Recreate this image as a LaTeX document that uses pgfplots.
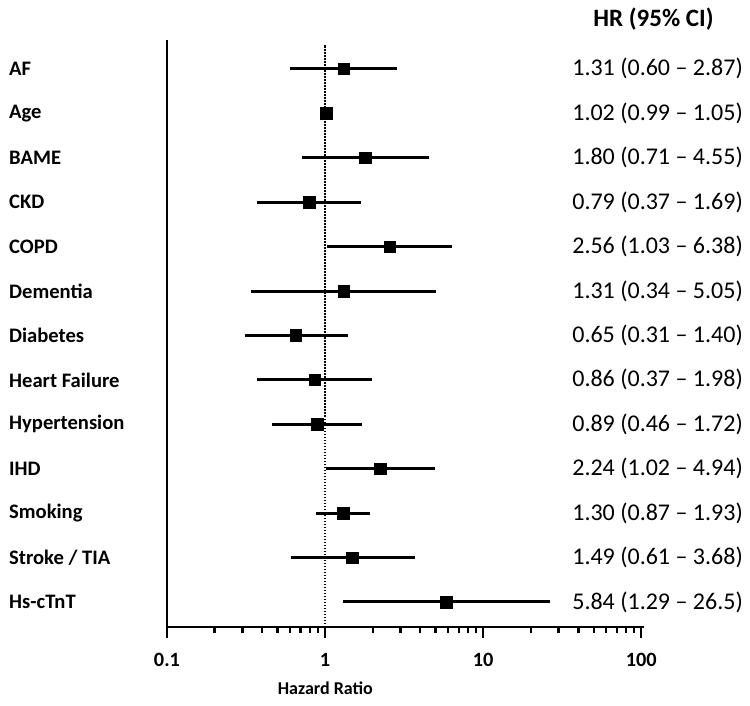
\documentclass[border=0pt]{standalone}
\usepackage{pgfplots}
\pgfplotsset{compat=1.18}
\usepackage{pgfplotstable}
\usepackage{fontspec}
\setmainfont{Carlito}
\pgfplotstableread{
hr lo hi y
1.31 0.60 2.87 13
1.02 0.99 1.05 12
1.80 0.71 4.55 11
0.79 0.37 1.69 10
2.56 1.03 6.38 9
1.31 0.34 5.05 8
0.65 0.31 1.40 7
0.86 0.37 1.98 6
0.89 0.46 1.72 5
2.24 1.02 4.94 4
1.30 0.87 1.93 3
1.49 0.61 3.68 2
5.84 1.29 26.5 1
}\datatable
\begin{document}
\begin{tikzpicture}
\path[use as bounding box] (0,0) rectangle (750pt,705pt);
\begin{axis}[
  at={(167pt,78pt)}, anchor=south west,
  scale only axis, width=477pt, height=587pt,
  xmode=log, log basis x=10,
  xmin=0.1, xmax=104, ymin=0.437, ymax=13.65,
  axis x line*=bottom, axis y line*=left,
  axis line style={line width=2.5pt, black},
  ytick=\empty,
  xtick={0.1,1,10,100},
  xticklabels={\textbf{0.1},\textbf{1},\textbf{10},\textbf{100}},
  minor xtick={0.2,0.3,0.4,0.5,0.6,0.7,0.8,0.9,2,3,4,5,6,7,8,9,20,30,40,50,60,70,80,90},
  tick align=outside,
  major tick length=11pt, minor tick length=6pt,
  every tick/.style={line width=2.3pt, black},
  x tick label style={font=\fontsize{20.3}{24}\selectfont, yshift=-12pt},
  xlabel={\fontsize{18}{21}\selectfont\bfseries Hazard Ratio},
  xlabel style={at={(ticklabel cs:0.332)}, yshift=-8pt},
  clip=false,
]
\addplot[line width=1.8pt, black, dash pattern=on 1.5pt off 1.5pt] coordinates {(1,0.437) (1,13.54)};
\addplot[only marks, mark=square*, mark size=5.8pt, black,
  error bars/.cd, x dir=both, x explicit, error mark=none,
  error bar style={line width=3pt, black}]
  table[x=hr, y=y, x error plus expr=\thisrow{hi}-\thisrow{hr}, x error minus expr=\thisrow{hr}-\thisrow{lo}] {\datatable};
\begin{scope}[every node/.style={inner sep=0pt}]
\begin{scope}[every node/.append style={font=\fontsize{20.6}{24}\selectfont\bfseries, anchor=west, xshift=-158pt}]
\node at (axis cs:0.1,13) {AF};
\node at (axis cs:0.1,12) {Age};
\node at (axis cs:0.1,11) {BAME};
\node at (axis cs:0.1,10) {CKD};
\node at (axis cs:0.1,9) {COPD};
\node at (axis cs:0.1,8) {Dementia};
\node at (axis cs:0.1,7) {Diabetes};
\node at (axis cs:0.1,6) {Heart Failure};
\node at (axis cs:0.1,5) {Hypertension};
\node at (axis cs:0.1,4) {IHD};
\node at (axis cs:0.1,3) {Smoking};
\node at (axis cs:0.1,2) {Stroke / TIA};
\node at (axis cs:0.1,1) {Hs-cTnT};
\end{scope}
\begin{scope}[every node/.append style={font=\fontsize{24}{28}\selectfont, anchor=east, xshift=576pt}]
\node at (axis cs:0.1,13) {1.31 (0.60 -- 2.87)};
\node at (axis cs:0.1,12) {1.02 (0.99 -- 1.05)};
\node at (axis cs:0.1,11) {1.80 (0.71 -- 4.55)};
\node at (axis cs:0.1,10) {0.79 (0.37 -- 1.69)};
\node at (axis cs:0.1,9) {2.56 (1.03 -- 6.38)};
\node at (axis cs:0.1,8) {1.31 (0.34 -- 5.05)};
\node at (axis cs:0.1,7) {0.65 (0.31 -- 1.40)};
\node at (axis cs:0.1,6) {0.86 (0.37 -- 1.98)};
\node at (axis cs:0.1,5) {0.89 (0.46 -- 1.72)};
\node at (axis cs:0.1,4) {2.24 (1.02 -- 4.94)};
\node at (axis cs:0.1,3) {1.30 (0.87 -- 1.93)};
\node at (axis cs:0.1,2) {1.49 (0.61 -- 3.68)};
\node at (axis cs:0.1,1) {5.84 (1.29 -- 26.5)};
\end{scope}
\node[font=\fontsize{25}{29}\selectfont\bfseries, xshift=486.5pt] at (axis cs:0.1,14.13) {HR (95\% CI)};
\end{scope}
\end{axis}
\end{tikzpicture}
\end{document}
